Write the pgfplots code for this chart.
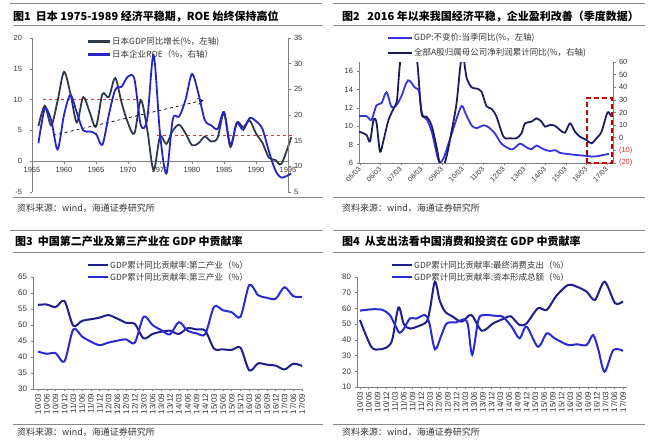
\documentclass[border=0pt]{standalone}
\usepackage{fontspec}
\setmainfont{Liberation Sans}
\newfontfamily\cjk{Noto Sans CJK SC}
\usepackage{pgfplots}
\pgfplotsset{compat=1.18}
\usetikzlibrary{arrows.meta}
\definecolor{axgray}{HTML}{808080}
\definecolor{rulegray}{HTML}{8A8A8A}
\definecolor{txtgray}{HTML}{333333}
\definecolor{jgdp}{HTML}{2E3A4A}
\definecolor{jroe}{HTML}{2424C8}
\definecolor{cgdp}{HTML}{3434E0}
\definecolor{cprof}{HTML}{1C1C5E}
\definecolor{dnavy}{HTML}{1E1E8C}
\definecolor{bblue}{HTML}{2A2AD4}
\definecolor{redd}{HTML}{E03030}
\definecolor{boxred}{HTML}{C00000}
\pgfplotsset{
  base/.style={scale only axis, anchor=south west,
    axis line style={axgray, line width=0.6pt},
    tick style={axgray, line width=0.5pt},
    major tick length=2.5pt, tick align=outside,
    tick label style={font=\fontsize{7.5}{8}\selectfont, text=txtgray},
    /pgf/number format/assume math mode=true,
    hide obscured x ticks=false, hide obscured y ticks=false},
}
\newcommand{\cf}[1]{\fontsize{#1}{#1}\selectfont\cjk}
\begin{document}
\begin{tikzpicture}[x=1pt,y=1pt]
\path (0,0) rectangle (659,444);
% ---------------- rules ----------------
\begin{scope}[rulegray, line width=0.9pt]
\draw (10,440.7) -- (322,440.7); \draw (13,419) -- (323,419); \draw (13,247) -- (323,247);
\draw (333,440.7) -- (645,440.7); \draw (333,419) -- (645,419); \draw (333,247) -- (645,247);
\draw (10,214) -- (323,214); \draw (13,192) -- (323,192); \draw (13,20) -- (323,20);
\draw (333,214) -- (645,214); \draw (333,192) -- (645,192); \draw (333,20) -- (645,20);
\end{scope}
% ---------------- titles ----------------
\node[anchor=base west, inner sep=0, text=black] at (13,423) {\cf{11}\bfseries 图1\ \ 日本 1975-1989 经济平稳期，ROE 始终保持高位};
\node[anchor=base west, inner sep=0, text=black] at (342,423) {\cf{11}\bfseries 图2\ \ \ 2016 年以来我国经济平稳，企业盈利改善（季度数据）};
\node[anchor=base west, inner sep=0, text=black] at (15,198) {\cf{11}\bfseries 图3\ \ 中国第二产业及第三产业在 GDP 中贡献率};
\node[anchor=base west, inner sep=0, text=black] at (342,198) {\cf{11}\bfseries 图4\ \ 从支出法看中国消费和投资在 GDP 中贡献率};
% sources
\node[anchor=base west, inner sep=0, text=txtgray] at (17,232) {\cf{9}资料来源：wind，海通证券研究所};
\node[anchor=base west, inner sep=0, text=txtgray] at (342,232) {\cf{9}资料来源：wind，海通证券研究所};
\node[anchor=base west, inner sep=0, text=txtgray] at (17,8) {\cf{9}资料来源：wind，海通证券研究所};
\node[anchor=base west, inner sep=0, text=txtgray] at (342,8) {\cf{9}资料来源：wind，海通证券研究所};

% ================= Panel 1 =================
\begin{axis}[base, at={(32pt,252pt)}, width=256pt, height=154pt,
  xmin=1955, xmax=1995, ymin=-5, ymax=20,
  axis x line*=middle, axis y line*=left,
  xtick={1955,1960,...,1995}, xticklabels={1955,1960,1965,1970,1975,1980,1985,1990,1995},
  yticklabel style={xshift=-4pt},
  ytick={-5,0,5,10,15,20}, clip=false]
\draw[redd, dashed, line width=0.8pt] (axis cs:1956.7,10) -- (axis cs:1971.9,10);
\draw[redd, dashed, line width=0.8pt] (axis cs:1974.5,4.2) -- (axis cs:1995.6,4.2);
\addplot[jgdp, line width=1.8pt, smooth] coordinates {
(1956,5.7)(1957,9.0)(1958,5.8)(1959,9.8)(1960,14.5)(1961,11.0)(1962,6.3)(1963,10.4)(1964,8.0)(1965,5.6)
(1966,10.9)(1967,10.4)(1968,13.5)(1969,9.5)(1970,6.2)(1971,4.5)(1972,9.9)(1973,5.2)(1974,-1.5)(1975,4.0)
(1976,2.8)(1977,5.0)(1978,5.9)(1979,4.5)(1980,2.6)(1981,2.9)(1982,4.0)(1983,3.2)(1984,3.8)(1985,7.8)
(1986,2.3)(1987,6.3)(1988,5.5)(1989,6.6)(1990,4.5)(1991,3.0)(1992,0.6)(1993,0.2)(1994,-0.4)(1995.5,3.9)};
\draw[black, dashed, line width=0.7pt, -{Straight Barb[length=5pt,width=6pt]}] (axis cs:1958.3,4.2) -- (axis cs:1981.8,9.9);
\end{axis}
\begin{axis}[base, at={(32pt,252pt)}, width=256pt, height=154pt,
  xmin=1955, xmax=1995, ymin=5, ymax=35,
  axis x line=none, axis y line*=right,
  ytick={5,10,...,35}, clip=false]
\addplot[jroe, line width=1.8pt, smooth] coordinates {
(1956,14.5)(1957,21.2)(1958,19.0)(1959,13.3)(1960,20.0)(1961,23.9)(1962,20.5)(1963,17.0)(1964,16.8)(1965,16.3)
(1966,14.2)(1967,20.0)(1968,24.9)(1969,25.5)(1970,27.5)(1971,27.0)(1972,18.0)(1973,19.2)(1974,31.7)(1975,16.4)
(1976,8.6)(1977,19.2)(1978,19.7)(1979,23.0)(1980,28.0)(1981,24.2)(1982,19.0)(1983,18.0)(1984,17.3)(1985,20.6)
(1986,14.2)(1987,18.4)(1988,17.1)(1989,19.4)(1990,18.8)(1991,17.3)(1992,13.0)(1993,9.3)(1994,7.8)(1995.5,8.6)};
\end{axis}
\draw[jgdp, line width=2.5pt] (88,402.3) -- (110,402.3);
\node[anchor=west, inner sep=0, text=txtgray] at (112,402.3) {\cf{8.5}日本GDP同比增长(\%，左轴)};
\draw[jroe, line width=2.5pt] (88,389.7) -- (110,389.7);
\node[anchor=west, inner sep=0, text=txtgray] at (112,389.7) {\cf{8.5}日本企业ROE（\%，右轴）};

% ================= Panel 2 =================
\begin{axis}[base, at={(359pt,281pt)}, width=254pt, height=101pt,
  xmin=0, xmax=50.8, ymin=6, ymax=17,
  axis x line*=bottom, axis y line*=left,
  xtick={0.2,4.32,8.44,12.56,16.68,20.8,24.92,29.04,33.16,37.28,41.4,45.52,49.64},
  xticklabels={05/03,06/03,07/03,08/03,09/03,10/03,11/03,12/03,13/03,14/03,15/03,16/03,17/03},
  xticklabel style={yshift=-2pt, rotate=45, anchor=east, inner sep=0.5pt, font=\fontsize{7}{7}\selectfont},
  ytick={6,8,...,16}]
\addplot[cgdp, line width=1.8pt, smooth] coordinates {
(0,11.1)(1.5,11.1)(2.5,10.7)(3.5,12.3)(4.5,12.5)(5.5,13.7)(6.5,12.1)(7.5,12.3)(8.5,13.3)(9.8,15.0)
(11.2,14.2)(12,13.8)(12.6,11.4)(13.6,10.7)(14.6,9.3)(15.9,6.3)(16.8,6.4)(17.9,8.1)(19.2,10.3)(20.5,12.2)
(21.3,11.4)(22.5,10.1)(23.5,9.8)(24.9,10.1)(25.9,9.9)(27.2,9.2)(28.5,8.1)(29.9,7.6)(30.8,7.5)(32.2,8.1)
(33.5,7.7)(34.5,7.5)(35.5,7.9)(36.9,7.5)(38.2,7.3)(39.2,7.4)(40.2,7.1)(41.5,7.0)(42.9,6.9)(44.9,6.8)
(46.9,6.7)(48.2,6.8)(50,7.0)};
\end{axis}
\begin{axis}[base, at={(359pt,281pt)}, width=254pt, height=101pt,
  xmin=0, xmax=50.8, ymin=-20, ymax=60,
  axis x line=none, axis y line*=right,
  ytick={-20,-10,...,60},
  yticklabels={\textcolor{redd}{(20)},\textcolor{redd}{(10)},0,10,20,30,40,50,60}]
\addplot[cprof, line width=1.8pt, smooth] coordinates {
(0,4.8)(1.5,2.2)(2.2,-3)(2.9,14)(3.5,12)(4.2,-11)(4.9,-2)(5.9,14)(6.9,23)(7.6,30)(8.2,59)(9.5,95)(10.5,95)
(11.7,58)(12.5,19.4)(13.5,16.7)(14.5,10)(15.5,-7)(16.5,-26)(17.5,-15)(18.5,4.8)(19.5,27)(20.3,58)(20.8,66)
(21.5,48)(22.5,40)(23.5,39)(24.5,36.5)(25.5,25)(26.5,23)(27.5,16.7)(28.9,0.8)(30.2,-0.4)(31.5,-0.4)(32.5,3.5)
(33.2,11.4)(34.5,12.7)(35.5,15.4)(36.5,12.7)(37.2,8.8)(38.2,10.1)(39.2,9.5)(40.2,6.1)(41.2,4)(42.2,11.4)
(43.2,4.8)(44.2,0.8)(45.5,-1.8)(46.5,-4.4)(47.5,-0.4)(48.5,4.8)(49.7,20)(50.4,17)};
\end{axis}
\draw[boxred, line width=2.2pt, dash pattern=on 5pt off 3pt] (587,281) rectangle (612,346);
\draw[cgdp, line width=2.5pt] (388,406) -- (412,406);
\node[anchor=west, inner sep=0, text=txtgray] at (414,406) {\cf{8.5}GDP:不变价:当季同比(\%，左轴)};
\draw[cprof, line width=2.5pt] (388,391) -- (412,391);
\node[anchor=west, inner sep=0, text=txtgray] at (414,391) {\cf{8.5}全部A股归属母公司净利润累计同比(\%，右轴)};

% ================= Panel 3 =================
\begin{axis}[base, at={(33pt,55pt)}, width=270pt, height=112pt,
  xmin=-0.57, xmax=30.1, ymin=30, ymax=65,
  axis x line*=bottom, axis y line*=left,
  xtick={0,...,30},
  xticklabels={10/03,10/06,10/09,10/12,11/03,11/06,11/09,11/12,12/03,12/06,12/09,12/12,13/03,13/06,13/09,13/12,14/03,14/06,14/09,14/12,15/03,15/06,15/09,15/12,16/03,16/06,16/09,16/12,17/03,17/06,17/09},
  xticklabel style={yshift=-2pt, rotate=90, anchor=east, inner sep=0.3pt, font=\fontsize{8}{8}\selectfont},
  yticklabel style={font=\fontsize{8}{8}\selectfont},
  ytick={30,35,...,65}]
\addplot[dnavy, line width=2pt, smooth] coordinates {
(0,56.3)(1,56.4)(2,55.6)(3,57.5)(4,49.8)(5,51.3)(6,51.8)(7,52.3)(8,53.1)(9,52.0)(10,50.7)(11,50.3)(12,45.8)
(13,47.2)(14,47.9)(15,48.2)(16,47.2)(17,49.0)(18,48.6)(19,48.2)(20,42.6)(21,42.4)(22,42.2)(23,42.9)(24,35.8)
(25,38.0)(26,37.6)(27,37.3)(28,36.1)(29,37.9)(30,37.2)};
\addplot[bblue, line width=2pt, smooth] coordinates {
(0,41.7)(1,41.0)(2,41.2)(3,38.6)(4,48.6)(5,46.4)(6,44.8)(7,43.7)(8,44.5)(9,45.1)(10,45.5)(11,44.5)(12,52.6)
(13,50.0)(14,48.4)(15,47.1)(16,50.9)(17,48.2)(18,47.4)(19,47.2)(20,55.7)(21,54.6)(22,54.0)(23,52.6)(24,62.5)
(25,59.3)(26,58.5)(27,58.2)(28,61.8)(29,59.0)(30,58.8)};
\end{axis}
\draw[dnavy, line width=2.5pt] (88,179) -- (108,179);
\node[anchor=west, inner sep=0, text=txtgray] at (110,179) {\cf{8.5}GDP累计同比贡献率:第二产业（\%）};
\draw[bblue, line width=2.5pt] (88,167) -- (108,167);
\node[anchor=west, inner sep=0, text=txtgray] at (110,167) {\cf{8.5}GDP累计同比贡献率:第三产业（\%）};

% ================= Panel 4 =================
\begin{axis}[base, at={(357pt,57pt)}, width=270pt, height=110pt,
  xmin=-0.34, xmax=30.46, ymin=10, ymax=80,
  axis x line*=bottom, axis y line*=left,
  xtick={0,...,30},
  xticklabels={10/03,10/06,10/09,10/12,11/03,11/06,11/09,11/12,12/03,12/06,12/09,12/12,13/03,13/06,13/09,13/12,14/03,14/06,14/09,14/12,15/03,15/06,15/09,15/12,16/03,16/06,16/09,16/12,17/03,17/06,17/09},
  xticklabel style={yshift=-2pt, rotate=90, anchor=east, inner sep=0.3pt, font=\fontsize{8}{8}\selectfont},
  yticklabel style={font=\fontsize{8}{8}\selectfont},
  ytick={10,20,...,80}]
\addplot[dnavy, line width=2pt, smooth] coordinates {
(0,52.6)(1.3,35.5)(2.3,34.0)(3.2,35.8)(3.7,40.5)(4.4,60.7)(5.0,50.0)(5.7,47.2)(6.6,48.6)(7.6,51.6)(8.0,60)
(8.55,77.0)(9.1,65)(9.7,58)(10.6,54.7)(11.6,51.6)(12.7,55.8)(13.9,45.8)(15.2,50.5)(16.5,53.7)(17.2,55)
(18.2,49.5)(19,50.5)(20.3,60.1)(21.3,59.0)(22.4,68.0)(23.75,75.0)(24.7,73.9)(25.85,70.7)(26.8,65.4)
(27.9,77.0)(29.1,63.3)(30,64.5)};
\addplot[bblue, line width=2pt, smooth] coordinates {
(0,58.6)(1.5,59.5)(2.6,59.0)(3.4,55.8)(4.0,49.5)(4.5,44.5)(5.0,47)(5.7,53.7)(6.4,53.5)(7.4,55.8)(7.9,51)
(8.55,34.0)(9.3,43.1)(9.9,50.5)(11,51.2)(11.8,53)(12.3,50)(12.8,30.5)(13.5,52.6)(14.1,55.8)(15.6,55.2)
(16.3,54.7)(17.3,48.4)(18.2,41.0)(19,48.4)(20.3,35.6)(21.3,44.1)(22.2,41)(23.75,36.7)(24.7,37.2)(25.85,36.7)
(26.6,43.1)(27.2,33.5)(27.9,19.7)(28.9,33.5)(30,33.0)};
\end{axis}
\draw[dnavy, line width=2.5pt] (392,179) -- (412,179);
\node[anchor=west, inner sep=0, text=txtgray] at (414,179) {\cf{8.5}GDP累计同比贡献率:最终消费支出（\%）};
\draw[bblue, line width=2.5pt] (392,167) -- (412,167);
\node[anchor=west, inner sep=0, text=txtgray] at (414,167) {\cf{8.5}GDP累计同比贡献率:资本形成总额（\%）};
\end{tikzpicture}
\end{document}
